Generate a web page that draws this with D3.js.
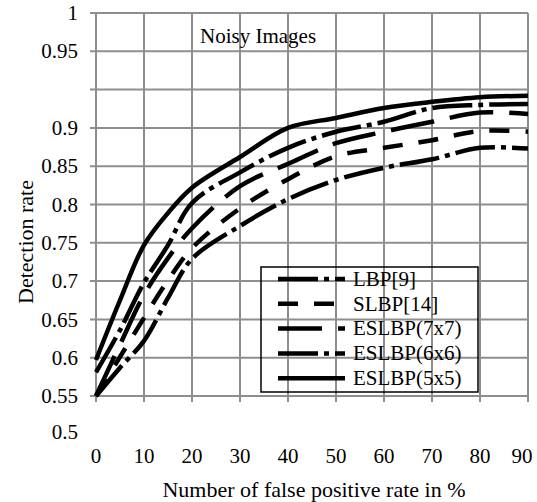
<!DOCTYPE html>
<html>
<head>
<meta charset="utf-8">
<script src="https://cdn.jsdelivr.net/npm/d3@7"></script>
<style>
  body { margin: 0; background: #fff; }
  text { font-family: 'Liberation Serif', 'Times New Roman', Times, serif; }
</style>
</head>
<body>
<div id="chart"></div>
<script>
// false positive rate (%)
const fpr = [0, 5, 10, 15, 20, 30, 40, 50, 60, 70, 80, 90];

// detection rate per method
const lbp9     = [0.55, 0.587, 0.622, 0.678, 0.729, 0.772, 0.807, 0.832, 0.848, 0.859, 0.874, 0.873];
const slbp14   = [0.55, 0.601, 0.652, 0.701, 0.743, 0.795, 0.833, 0.863, 0.874, 0.884, 0.896, 0.895];
const eslbp7   = [0.55, 0.617, 0.682, 0.730, 0.769, 0.824, 0.853, 0.880, 0.895, 0.904, 0.910, 0.909];
const eslbp6   = [0.581, 0.636, 0.698, 0.747, 0.802, 0.842, 0.874, 0.895, 0.904, 0.913, 0.915, 0.9156];
const eslbp5   = [0.597, 0.675, 0.747, 0.789, 0.822, 0.862, 0.900, 0.9065, 0.913, 0.917, 0.920, 0.921];

const seriesNames = ['LBP[9]', 'SLBP[14]', 'ESLBP(7x7)', 'ESLBP(6x6)', 'ESLBP(5x5)'];
const seriesValues = [lbp9, slbp14, eslbp7, eslbp6, eslbp5];
const dashes = ['40,6,5,6', '20,16', '44,16', '40,6,5,6', null];

const xTicks = [0, 10, 20, 30, 40, 50, 60, 70, 80, 90];
const yTickLabels = [0.5, 0.55, 0.6, 0.65, 0.7, 0.75, 0.8, 0.85, 0.9, 0.95, 1];
const yGrid = [0.55, 0.6, 0.65, 0.7, 0.75, 0.8, 0.85, 0.9, 0.925, 0.95, 1];

const width = 537, height = 502;
const margin = { top: 13, right: 9, bottom: 106, left: 96 };
const plotBottom = height - margin.bottom;
const step = (plotBottom - margin.top) / 10;
const serif = "'Liberation Serif', 'Times New Roman', Times, serif";
const fontSize = '21px';
const titleSize = '22px';

const svg = d3.select('#chart').append('svg')
  .attr('width', width)
  .attr('height', height)
  .attr('font-family', serif);

const x = d3.scaleLinear()
  .domain([0, 90])
  .range([margin.left, width - margin.right]);

// the axis labels in the picture are not evenly spaced, so the scale is piecewise
const y = d3.scaleLinear()
  .domain([0.5, 0.55, 0.9, 0.95, 1])
  .range([plotBottom + step * 0.94, plotBottom, margin.top + 3 * step, margin.top + step, margin.top]);

const grid = svg.append('g')
  .attr('stroke', '#8e8e8e')
  .attr('stroke-width', 2);

grid.selectAll('.hgrid')
  .data(yGrid)
  .enter().append('line')
    .attr('class', 'hgrid')
    .attr('x1', x(0) - 6)
    .attr('x2', x(90))
    .attr('y1', d => y(d))
    .attr('y2', d => y(d));

grid.selectAll('.vgrid')
  .data(xTicks)
  .enter().append('line')
    .attr('class', 'vgrid')
    .attr('x1', d => x(d))
    .attr('x2', d => x(d))
    .attr('y1', y(1))
    .attr('y2', y(0.55) + 6);

svg.append('text')
  .attr('x', 200)
  .attr('y', 43)
  .style('font-size', fontSize)
  .text('Noisy Images');

// y tick labels
svg.selectAll('.ylab')
  .data(yTickLabels)
  .enter().append('text')
    .attr('class', 'ylab')
    .attr('x', x(0) - 18)
    .attr('y', d => y(d))
    .attr('dy', '0.34em')
    .attr('text-anchor', 'end')
    .style('font-size', fontSize)
    .text(d => d3.format('')(d));

// x tick labels (last one kept inside the page)
svg.selectAll('.xlab')
  .data(xTicks)
  .enter().append('text')
    .attr('class', 'xlab')
    .attr('x', d => Math.min(x(d), width - 15))
    .attr('y', plotBottom + 67)
    .attr('text-anchor', 'middle')
    .style('font-size', fontSize)
    .text(d => d);

svg.append('text')
  .attr('x', (x(0) + x(90)) / 2 + 2)
  .attr('y', height - 5)
  .attr('text-anchor', 'middle')
  .style('font-size', titleSize)
  .text('Number of false positive rate in %');

svg.append('text')
  .attr('transform', `translate(33, 242) rotate(-90)`)
  .attr('text-anchor', 'middle')
  .style('font-size', titleSize)
  .text('Detection rate');

const line = d3.line()
  .x((d, i) => x(fpr[i]))
  .y(d => y(d))
  .curve(d3.curveCatmullRom.alpha(0.5));

svg.selectAll('.series')
  .data(seriesValues)
  .enter().append('path')
    .attr('class', 'series')
    .attr('d', line)
    .attr('fill', 'none')
    .attr('stroke', '#000')
    .attr('stroke-width', 4.5)
    .attr('stroke-dasharray', (d, i) => dashes[i]);

// legend
const legend = svg.append('g');
legend.append('rect')
  .attr('x', 261)
  .attr('y', 267)
  .attr('width', 217)
  .attr('height', 125)
  .attr('fill', 'none')
  .attr('stroke', '#000')
  .attr('stroke-width', 1.5);

const entry = legend.selectAll('.entry')
  .data(seriesNames)
  .enter().append('g')
    .attr('class', 'entry')
    .attr('transform', (d, i) => `translate(278, ${279 + i * 24.8})`);

entry.append('line')
  .attr('x1', 0)
  .attr('x2', 67)
  .attr('stroke', '#000')
  .attr('stroke-width', 4.5)
  .attr('stroke-dasharray', (d, i) => dashes[i]);

entry.append('text')
  .attr('x', 75)
  .attr('dy', '0.32em')
  .style('font-size', fontSize)
  .text(d => d);
</script>
</body>
</html>
